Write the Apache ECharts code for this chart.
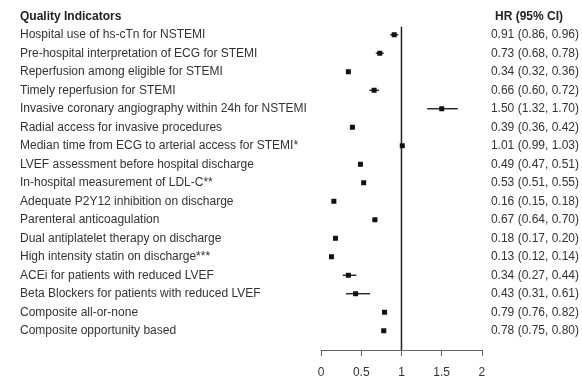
<!DOCTYPE html>
<html>
<head>
<meta charset="utf-8">
<script src="https://cdn.jsdelivr.net/npm/echarts@6/dist/echarts.min.js"></script>
<style>html,body{margin:0;padding:0;background:#fff}#c{width:582px;height:380px}</style>
</head>
<body>
<div id="c"></div>
<script>
var categories = [
  "Hospital use of hs-cTn for NSTEMI",
  "Pre-hospital interpretation of ECG for STEMI",
  "Reperfusion among eligible for STEMI",
  "Timely reperfusion for STEMI",
  "Invasive coronary angiography within 24h for NSTEMI",
  "Radial access for invasive procedures",
  "Median time from ECG to arterial access for STEMI*",
  "LVEF assessment before hospital discharge",
  "In-hospital measurement of LDL-C**",
  "Adequate P2Y12 inhibition on discharge",
  "Parenteral anticoagulation",
  "Dual antiplatelet therapy on discharge",
  "High intensity statin on discharge***",
  "ACEi for patients with reduced LVEF",
  "Beta Blockers for patients with reduced LVEF",
  "Composite all-or-none",
  "Composite opportunity based"
];
var hr    = [0.91, 0.73, 0.34, 0.66, 1.50, 0.39, 1.01, 0.49, 0.53, 0.16, 0.67, 0.18, 0.13, 0.34, 0.43, 0.79, 0.78];
var lower = [0.86, 0.68, 0.32, 0.60, 1.32, 0.36, 0.99, 0.47, 0.51, 0.15, 0.64, 0.17, 0.12, 0.27, 0.31, 0.76, 0.75];
var upper = [0.96, 0.78, 0.36, 0.72, 1.70, 0.42, 1.03, 0.51, 0.55, 0.18, 0.70, 0.20, 0.14, 0.44, 0.61, 0.82, 0.80];
var xTicks = [0, 0.5, 1, 1.5, 2];
var referenceValue = 1;

var hrLabels = hr.map(function (v, i) {
  return v.toFixed(2) + " (" + lower[i].toFixed(2) + ", " + upper[i].toFixed(2) + ")";
});
var forestData = hr.map(function (v, i) { return [i, v, lower[i], upper[i]]; });

var FONT = "Liberation Sans, Arial, Helvetica, sans-serif";
var chart = echarts.init(document.getElementById('c'), null, {renderer: 'canvas'});
chart.setOption({
  backgroundColor: '#fff',
  animation: false,
  title: [
    {text: 'Quality Indicators', left: 15, top: 6,
     textStyle: {fontFamily: FONT, fontSize: 12, fontWeight: 'bold', color: '#222'}},
    {text: 'HR (95% CI)', left: 490, top: 6,
     textStyle: {fontFamily: FONT, fontSize: 12, fontWeight: 'bold', color: '#222'}}
  ],
  grid: {left: 321, width: 165, top: 25.5, height: 314.5, containLabel: false},
  xAxis: {
    type: 'value', min: 0, max: 2, interval: 0.5, offset: 10,
    axisLine: {show: true, lineStyle: {color: '#666', width: 1}},
    axisTick: {show: true, length: 6, lineStyle: {color: '#666'}},
    splitLine: {show: false},
    axisLabel: {margin: 17, fontFamily: FONT, fontSize: 12, color: '#333',
      formatter: function (v) { return xTicks.indexOf(v) >= 0 ? String(v) : ''; }}
  },
  yAxis: [
    {type: 'category', data: categories, inverse: true,
     axisLine: {show: false}, axisTick: {show: false}, splitLine: {show: false},
     axisLabel: {align: 'left', margin: 301, fontFamily: FONT, fontSize: 12, color: '#333', interval: 0}},
    {type: 'category', data: hrLabels, inverse: true, position: 'right',
     axisLine: {show: false}, axisTick: {show: false}, splitLine: {show: false},
     axisLabel: {align: 'left', margin: 9, fontFamily: FONT, fontSize: 12, color: '#333', interval: 0}}
  ],
  series: [
    {
      type: 'custom', name: 'ref', data: [[referenceValue]], z: 2,
      renderItem: function (params, api) {
        var cs = params.coordSys;
        var top = api.coord([api.value(0), 0])[1] - 8;
        var x = api.coord([api.value(0), 0])[0];
        var bottom = cs.y + cs.height + 10;
        return {type: 'line', shape: {x1: x, y1: top, x2: x, y2: bottom},
                style: {stroke: '#222', lineWidth: 1.5}};
      },
      encode: {x: 0}
    },
    {
      type: 'custom', name: 'forest', data: forestData, z: 3,
      encode: {x: [1, 2, 3], y: 0},
      renderItem: function (params, api) {
        var i = api.value(0);
        var pEst = api.coord([api.value(1), i]);
        var pLo = api.coord([api.value(2), i]);
        var pHi = api.coord([api.value(3), i]);
        var s = 5;
        return {type: 'group', children: [
          {type: 'line', shape: {x1: pLo[0], y1: pEst[1], x2: pHi[0], y2: pEst[1]},
           style: {stroke: '#111', lineWidth: 1.3}},
          {type: 'rect', shape: {x: pEst[0] - s / 2, y: pEst[1] - s / 2, width: s, height: s},
           style: {fill: '#111'}}
        ]};
      }
    }
  ]
});
</script>
</body>
</html>
